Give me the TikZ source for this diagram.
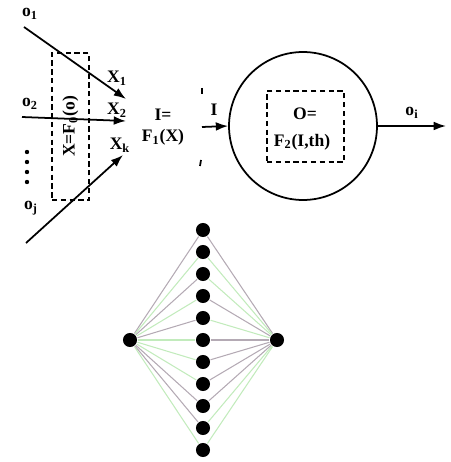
\documentclass[tikz,border=0pt]{standalone}
\usepackage{fontspec}
\setmainfont{Liberation Serif}
\usetikzlibrary{arrows.meta, positioning, calc}
\definecolor{edgegray}{HTML}{B4AAB4}
\definecolor{edgegreen}{HTML}{C2EBBC}
\tikzset{
	boldtext/.style={font=\fontsize{10}{11}\selectfont\bfseries, inner sep=1pt}
}
\tikzset{
	dashbox/.style={draw, dash pattern=on 3pt off 2pt, line width=0.8pt, inner sep=0pt}
}
\tikzset{
	unit/.style={circle, fill=black, inner sep=0pt, minimum size=8pt}
}

\begin{document}
\begin{tikzpicture}[x=0.02cm, y=-0.02cm, line width=1pt, >={Latex[length=7pt,width=5pt]}]
      \useasboundingbox (0,0) rectangle (450,462);
      % inputs o1, o2, ..., oj
      \node[boldtext] (o1) at (30,14) {o\textsubscript{1}};
      \node[boldtext] (o2) at (30,104) {o\textsubscript{2}};
      \node[boldtext] (oj) at (31,208) {o\textsubscript{j}};
      \coordinate (s1) at (24,27);
      \coordinate (s2) at (22,117);
      \coordinate (sj) at (26,243);
      \coordinate (e1) at (126,99);
      \coordinate (e2) at (126,121);
      \coordinate (ek) at (123,155);
      \draw[->] (s1) -- (e1);
      \draw[->] (s2) -- (e2);
      \draw[->] (sj) -- (ek);
      \foreach \y in {152,162,172,182} {
        \fill (27,\y) circle (2.2);
      }
      \node[boldtext] (x1) at (117,78) {X\textsubscript{1}};
      \node[boldtext] (x2) at (117,110) {X\textsubscript{2}};
      \node[boldtext] (xk) at (120,145) {X\textsubscript{k}};
      % F0 box
      \node[dashbox, minimum width=0.74cm, minimum height=2.94cm] (fzero) at (70.5,126.5) {};
      \node[boldtext, rotate=90] (xeq) at (fzero) {X=F\textsubscript{0}(o)};
      % I = F1(X)
      \node[boldtext] (ieq) at (163,115) {I=};
      \node[boldtext, below=2pt of ieq] (fone) {F\textsubscript{1}(X)};
      \draw (202,88) -- (202,94);
      \draw (201,160) -- (200,166);
      \coordinate (iin) at (202,127);
      \node[boldtext] (ilab) at (214,110) {I};
      % cell
      \node[draw, circle, minimum size=2.96cm, inner sep=0pt] (cell) at (303,126) {};
      \draw[->] (iin) -- (cell.west);
      \node[dashbox, minimum width=1.54cm, minimum height=1.42cm] (ftwo) at (305.5,126.5) {};
      \node[boldtext] (oeq) at (305,114) {O=};
      \node[boldtext] (fth) at (302,142) {F\textsubscript{2}(I,th)};
      \coordinate (out) at (446,126);
      \draw[->] (cell.east) -- (out);
      \node[boldtext] (oi) at (412,113) {o\textsubscript{i}};
      % network
      \node[unit] (inL) at (130,340) {};
      \node[unit] (outR) at (277,340) {};
      \foreach \i in {1,...,11} {
        \node[unit] (h\i) at (203,{230+22*(\i-1)}) {};
      }
      \foreach \i/\cl/\cr in {1/edgegray/edgegray, 2/edgegreen/edgegreen, 3/edgegray/edgegreen,
          4/edgegreen/edgegray, 5/edgegray/edgegreen, 6/edgegreen/edgegray, 7/edgegreen/edgegray,
          8/edgegreen/edgegray, 9/edgegray/edgegray, 10/edgegray/edgegreen, 11/edgegreen/edgegreen} {
        \draw[\cl, line width=0.6pt] (inL) -- (h\i);
        \draw[\cr, line width=0.6pt] (h\i) -- (outR);
      }
    \end{tikzpicture}
\end{document}
